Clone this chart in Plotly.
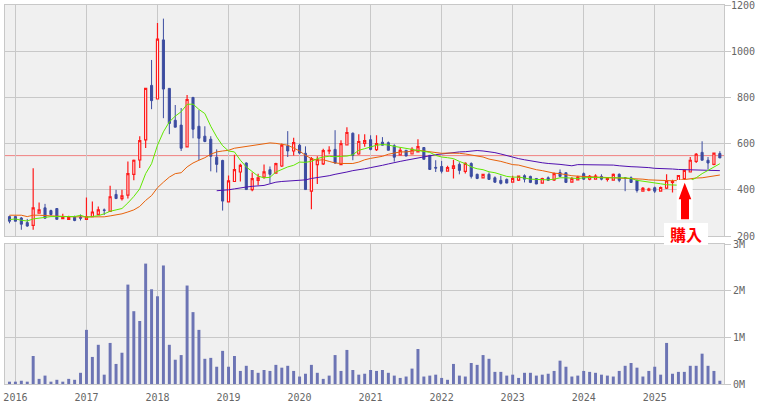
import plotly.graph_objs as go

## Data (monthly, Dec 2015 - Dec 2025)
open_p = [284,284,278,258,246,299,322,310,319,275,272,281,281,272,284,294,313,307,380,362,
	377,467,529,616,852,793,1049,839,701,680,586,800,675,632,619,541,527,348,436,477,
	516,401,441,455,487,472,503,590,568,593,558,394,509,512,568,575,509,594,645,555,
	601,617,574,606,604,591,551,571,555,564,583,549,497,501,481,493,510,480,514,467,
	452,467,452,441,445,433,442,461,458,449,429,452,443,475,474,433,443,470,446,446,
	458,445,442,467,452,452,441,394,399,409,394,407,432,435,449,477,523,562,528,510,557]
high_p = [288,286,282,274,493,345,339,314,319,296,288,288,293,367,349,328,319,417,400,400,
	522,531,632,839,962,1122,1141,839,767,754,810,800,745,675,632,575,530,462,552,513,
	519,475,470,509,501,517,600,654,625,600,588,542,545,578,588,658,614,671,648,641,
	641,636,636,628,609,597,583,571,584,619,584,549,528,525,504,530,519,519,519,470,
	470,475,458,461,449,461,462,467,461,449,452,458,475,488,474,455,461,475,464,467,
	467,455,471,471,455,458,443,412,409,414,414,467,443,464,487,542,559,610,542,562,567]
low_p = [255,264,227,240,227,296,277,288,272,272,270,264,267,272,284,291,291,304,362,354,
	362,441,494,581,749,793,710,641,671,568,586,623,528,606,480,475,310,348,436,436,
	401,394,420,448,428,470,499,542,549,554,401,316,425,507,554,513,506,593,528,552,
	586,571,568,593,571,522,549,546,554,562,532,488,477,471,481,449,467,471,449,446,
	449,445,430,423,429,430,438,432,429,425,428,438,438,458,432,433,441,443,441,443,
	441,436,441,433,394,432,388,394,394,386,394,404,388,414,446,477,516,528,488,506,538]
close_p = [264,264,251,243,322,313,277,293,272,281,281,267,277,283,304,313,311,370,362,374,
	470,528,613,839,786,1052,836,687,671,580,791,662,623,609,545,510,351,439,487,506,
	401,448,452,478,467,513,593,568,604,559,401,535,530,570,571,516,600,648,549,609,
	613,575,600,593,571,541,571,546,575,587,532,488,494,480,496,504,484,514,458,449,
	467,445,433,428,429,449,459,446,432,425,449,441,470,458,432,449,455,446,458,459,
	446,452,467,441,451,432,397,406,403,394,410,439,436,462,484,528,554,528,516,559,538]

ma_short = [271,274,268,265,274,278,283,284,284,284,284,284,290,281,284,288,296,307,313,319,
	343,371,404,470,513,593,651,694,719,738,770,771,748,730,675,629,591,568,564,528,
	499,477,459,452,454,477,488,499,506,520,519,523,535,542,545,543,545,546,552,571,
	578,586,593,596,594,588,584,580,577,571,568,562,549,542,539,535,523,513,499,491,
	487,478,474,467,458,455,455,451,446,445,443,443,446,452,452,451,449,452,454,454,
	452,451,451,452,452,449,441,438,433,429,426,422,420,420,430,439,452,470,484,499,513]
ma_mid = [290,290,290,284,290,290,290,287,286,284,283,283,283,283,283,283,283,287,290,296,
	304,313,328,354,375,409,433,455,470,474,499,516,528,539,554,564,568,571,580,584,
	588,594,596,600,603,601,597,593,581,568,549,535,528,530,523,516,514,514,514,520,
	530,536,539,545,554,559,564,564,567,571,568,564,561,558,559,559,558,555,551,545,
	542,533,529,523,516,509,507,500,493,487,483,477,472,470,464,461,459,458,457,455,
	454,452,451,451,449,448,446,446,443,442,439,439,439,441,445,448,451,452,457,461,464]
ma_long = [None]*35 + [396,397,400,404,409,412,415,416,419,426,433,436,438,441,443,443,449,452,455,
	461,467,471,477,483,486,491,496,500,506,512,519,523,528,533,539,545,549,552,555,
	559,562,564,565,568,570,568,565,561,555,548,539,535,530,525,520,517,514,513,510,
	507,504,509,509,509,509,507,507,507,504,501,500,499,499,496,493,493,491,490,488,
	487,487,487,483,483,483,483]

volume = [0.05,0.05,0.07,0.05,0.60,0.11,0.18,0.05,0.09,0.05,0.11,0.09,0.24,1.16,0.58,0.84,0.20,0.88,0.43,0.67,
	2.13,1.56,1.35,2.58,2.03,1.88,2.54,0.84,0.52,0.62,2.11,1.54,1.16,0.54,0.56,0.37,0.71,0.37,0.60,0.28,
	0.39,0.30,0.24,0.30,0.28,0.41,0.35,0.39,0.28,0.16,0.22,0.41,0.24,0.11,0.18,0.62,0.28,0.73,0.30,0.20,
	0.22,0.30,0.28,0.30,0.24,0.18,0.13,0.16,0.33,0.75,0.16,0.18,0.20,0.13,0.09,0.43,0.18,0.16,0.45,0.41,
	0.62,0.54,0.26,0.26,0.18,0.20,0.13,0.24,0.24,0.18,0.20,0.22,0.28,0.50,0.37,0.16,0.18,0.28,0.26,0.24,
	0.20,0.18,0.16,0.28,0.39,0.45,0.35,0.16,0.28,0.37,0.20,0.88,0.22,0.26,0.26,0.39,0.39,0.65,0.39,0.28,0.07]

months = list(range(len(close_p)))
year_ticks = [1, 13, 25, 37, 49, 61, 73, 85, 97, 109]
year_labels = ['2016','2017','2018','2019','2020','2021','2022','2023','2024','2025']
price_ticks = [200, 400, 600, 800, 1000, 1200]
price_labels = ['\u00a0200','\u00a0400','\u00a0600','\u00a0800','1000','1200']
vol_ticks = [0, 1, 2, 3]
vol_labels = ['0M','1M','2M','3M']
purchase_price = 548

W, H = 758, 403
L, R, T, B = 5, 34, 5, 19
GRID = '#c8c8c8'
FONT = {'family':'DejaVu Sans Mono', 'size':10, 'color':'#666666'}

# pixel position -> paper fraction
def px(x):
	return (x-L)/(W-L-R)
def py(y):
	return 1-(y-T)/(H-T-B)

## Traces
data = []
data.append(go.Candlestick(x=months, open=open_p, high=high_p, low=low_p, close=close_p,
					whiskerwidth=0, xaxis='x', yaxis='y',
					increasing={'line':{'color':'#ff1a1a','width':1.2}, 'fillcolor':'#ffffff'},
					decreasing={'line':{'color':'#3c4ca0','width':1}, 'fillcolor':'#3c4ca0'}))
data.append(go.Scatter(x=months, y=ma_long, mode='lines', xaxis='x', yaxis='y',
					line={'color':'#5010b0','width':1}))
data.append(go.Scatter(x=months, y=ma_mid, mode='lines', xaxis='x', yaxis='y',
					line={'color':'#e8620a','width':1}))
data.append(go.Scatter(x=months, y=ma_short, mode='lines', xaxis='x', yaxis='y',
					line={'color':'#60e800','width':1}))
data.append(go.Bar(x=months, y=volume, width=0.5, xaxis='x2', yaxis='y2',
					marker={'color':'#6c74b4','line':{'width':0}}))

## Arrow and label on top of the chart
arrow = [(684.7,182.7),(691.3,199.3),(689,199.3),(689,219.3),(681,219.3),(681,199.3),(678.7,199.3)]
arrow_path = 'M' + ' L'.join('%f %f' % (px(a), py(b)) for a, b in arrow) + ' Z'
shapes = [
	{'type':'line','xref':'paper','x0':0,'x1':1,'yref':'y','y0':purchase_price,'y1':purchase_price,
		'line':{'color':'#f08080','width':1},'layer':'below'},
	{'type':'rect','xref':'paper','yref':'paper','x0':px(676.7),'x1':px(692.7),'y0':py(220),'y1':py(180),
		'fillcolor':'#ffffff','line':{'width':0}},
	{'type':'rect','xref':'paper','yref':'paper','x0':px(664),'x1':px(708),'y0':py(245),'y1':py(223),
		'fillcolor':'#ffffff','line':{'width':0}},
	{'type':'path','xref':'paper','yref':'paper','path':arrow_path,
		'fillcolor':'#ff0000','line':{'width':0}},
]
annotations = [
	{'text':'購入','xref':'paper','yref':'paper','x':px(686),'y':py(234),'showarrow':False,
		'xanchor':'center','yanchor':'middle',
		'font':{'family':'Noto Sans CJK JP','size':16,'color':'#ff0000','weight':'bold'}},
]

## Layout
x_common = {'range':[-0.76,120.7], 'tickmode':'array', 'tickvals':year_ticks, 'showgrid':True,
	'gridcolor':GRID, 'gridwidth':1, 'zeroline':False, 'showline':True, 'mirror':True,
	'linecolor':GRID, 'linewidth':1}
y_common = {'side':'right', 'showgrid':True, 'gridcolor':GRID, 'gridwidth':1, 'zeroline':False,
	'showline':True, 'mirror':True, 'linecolor':GRID, 'linewidth':1, 'ticks':'outside',
	'ticklen':6, 'tickcolor':GRID, 'tickfont':FONT, 'tickmode':'array', 'ticklabeloverflow':'allow'}

layout = {
	'width':W, 'height':H,
	'margin':{'l':L,'r':R,'t':T,'b':B,'pad':0,'autoexpand':False},
	'paper_bgcolor':'#ffffff',
	'plot_bgcolor':'#f0f0f0',
	'showlegend':False,
	'boxgap':0.5,
	'xaxis':dict(x_common, domain=[0,1], anchor='y', showticklabels=False, rangeslider={'visible':False}),
	'yaxis':dict(y_common, domain=[(384-236)/379,1], anchor='x', range=[200,1200],
		tickvals=price_ticks, ticktext=price_labels, ticklabelstandoff=-2),
	'xaxis2':dict(x_common, domain=[0,1], anchor='y2', ticktext=year_labels, tickfont=FONT, ticks='',
		ticklabelstandoff=4, ticklabeloverflow='allow'),
	'yaxis2':dict(y_common, domain=[0,(384-244)/379], anchor='x2', range=[0,3],
		tickvals=vol_ticks, ticktext=vol_labels),
	'shapes':shapes,
	'annotations':annotations,
}

fig = go.Figure(data=data, layout=layout)
# page margin would push the fixed size plot out of the window
fig.write_html("out.html", config={'displayModeBar':False},
	post_script="document.body.style.margin='0';")
